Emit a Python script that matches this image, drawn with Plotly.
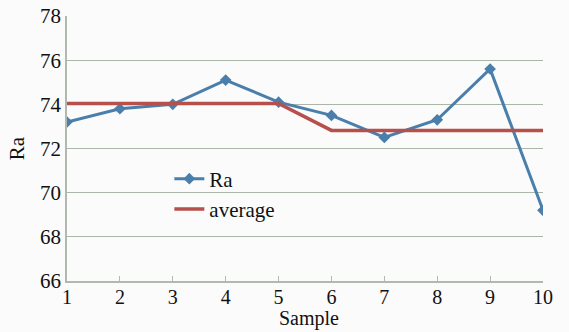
import plotly.graph_objects as go

samples = [1, 2, 3, 4, 5, 6, 7, 8, 9, 10]
ra = [73.2, 73.8, 74.0, 75.1, 74.1, 73.5, 72.5, 73.3, 75.6, 69.2]
average = [74.04, 74.04, 74.04, 74.04, 74.04, 72.82, 72.82, 72.82, 72.82, 72.82]
y_ticks = [66, 68, 70, 72, 74, 76, 78]

font_family = "Liberation Serif"
fs = 21
top, bottom = 16, 51
plot_h = 332 - top - bottom

fig = go.Figure()
fig.add_trace(go.Scatter(
    x=samples, y=ra, name="Ra", mode="lines+markers",
    line=dict(color="#4a7eab", width=3),
    marker=dict(symbol="diamond", size=9, color="#4a7eab"),
))
fig.add_trace(go.Scatter(
    x=samples, y=average, name="average", mode="lines",
    line=dict(color="#b5504c", width=3.5),
))

fig.update_layout(
    width=569, height=332,
    margin=dict(l=67, r=26, t=top, b=bottom),
    paper_bgcolor="#fbfbfb", plot_bgcolor="#fbfbfb",
    font=dict(family=font_family, size=fs, color="#111111"),
    showlegend=True,
    legend=dict(x=0.215, y=0.462, xanchor="left", yanchor="top",
                bgcolor="rgba(0,0,0,0)", font=dict(size=fs),
                tracegroupgap=0, itemwidth=30),
    xaxis=dict(
        range=[1, 10], tickmode="array", tickvals=samples,
        ticktext=[str(s) for s in samples],
        showgrid=False, zeroline=False, automargin=False,
        showline=True, linecolor="#b0b8b0", linewidth=1.5,
        ticks="inside", ticklen=5, tickcolor="#b0b8b0",
        tickfont=dict(size=20), ticklabelstandoff=-3,
    ),
    yaxis=dict(
        range=[66, 78], tickmode="array", tickvals=y_ticks,
        showgrid=True, gridcolor="#aab6aa", gridwidth=1.2,
        zeroline=False, automargin=False,
        showline=True, linecolor="#b0b8b0", linewidth=1.5,
        ticks="", title=dict(text="Ra", standoff=10, font=dict(size=fs)),
        tickfont=dict(size=fs),
    ),
    annotations=[dict(
        text="Sample", xref="paper", yref="paper", x=0.508,
        y=-(332 - 1 - (332 - bottom)) / plot_h,
        xanchor="center", yanchor="bottom", showarrow=False, borderpad=0,
        font=dict(size=20, family=font_family, color="#111111"),
    )],
)

fig.write_html("out.html")
